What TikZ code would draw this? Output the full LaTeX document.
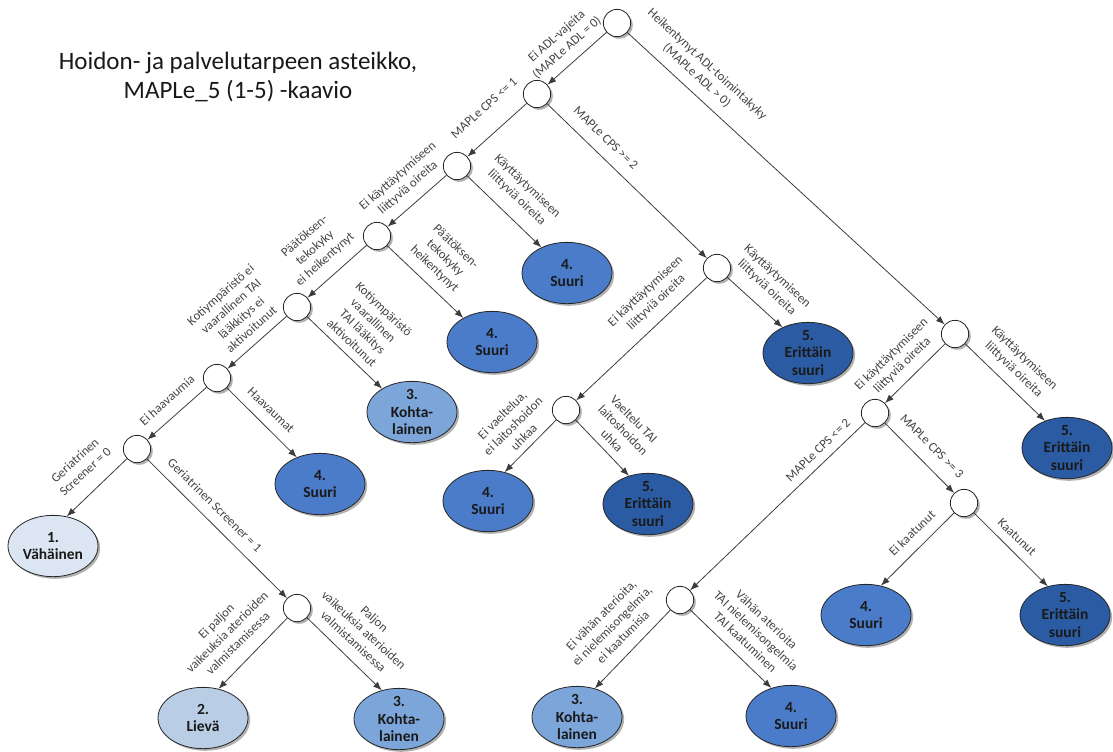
\documentclass[tikz,border=0pt]{standalone}
\usepackage{fontspec}
\setmainfont{Carlito}
\usetikzlibrary{shapes.geometric,arrows.meta,shadows}
\definecolor{cA}{HTML}{DCE6F2}
\definecolor{cB}{HTML}{B9CDE5}
\definecolor{cC}{HTML}{7CA5DA}
\definecolor{cD}{HTML}{4A7CC9}
\definecolor{cE}{HTML}{2B5CA3}
\definecolor{lblgray}{HTML}{444444}
\definecolor{edgegray}{HTML}{3C3C3C}
\begin{document}
\begin{tikzpicture}[x=0.75pt,y=-0.75pt,
  shad/.style={drop shadow={shadow xshift=1.6pt,shadow yshift=-1.6pt,fill=black,opacity=0.3}},
  dec/.style={circle,draw=black!85,fill=white,minimum size=20.5pt,inner sep=0pt,line width=0.6pt,shad},
  leaf/.style={ellipse,draw=black!85,line width=0.6pt,minimum width=67.5pt,minimum height=46pt,
     inner xsep=0pt,inner ysep=-3pt,align=center,text=black!90,
     font=\bfseries\fontsize{11.6}{13.1}\selectfont,shad},
  conn/.style={draw=edgegray,line width=0.6pt,-{Latex[length=6.5pt,width=5pt]}},
  lbl/.style={font=\fontsize{9.6}{11.6}\selectfont,text=lblgray,align=center,inner sep=0pt},
  ttl/.style={font=\fontsize{18.75}{21.5}\selectfont,text=black!90,align=center,inner sep=0pt}
]
\useasboundingbox (0,0) rectangle (1113,751);

% title
\node[ttl] (title) at (238,77) {Hoidon- ja palvelutarpeen asteikko,\\MAPLe\_5 (1-5) -kaavio};

% decision nodes
\node[dec] (root) at (617,23) {};
\node[dec] (n2) at (537,94) {};
\node[dec] (n3) at (457,166) {};
\node[dec] (n4) at (377,236) {};
\node[dec] (n5) at (297,307) {};
\node[dec] (n6) at (217,378) {};
\node[dec] (n7) at (137,449) {};
\node[dec] (n8) at (297,608) {};
\node[dec] (n9) at (717,268) {};
\node[dec] (n10) at (566,410) {};
\node[dec] (n11) at (955,334) {};
\node[dec] (n12) at (875,413) {};
\node[dec] (n13) at (964,503) {};
\node[dec] (n14) at (680,600) {};

% leaves
\node[leaf,fill=cD] (la) at (567,273) {4.\\Suuri};
\node[leaf,fill=cD] (lb) at (492,342) {4.\\Suuri};
\node[leaf,fill=cC] (lk) at (412,412) {3.\\Kohta-\\lainen};
\node[leaf,fill=cD] (lc) at (320,484) {4.\\Suuri};
\node[leaf,fill=cA] (lv) at (53,546) {1.\\Vähäinen};
\node[leaf,fill=cB] (ll) at (203,718) {2.\\Lievä};
\node[leaf,fill=cC] (lk2) at (399,719) {3.\\Kohta-\\lainen};
\node[leaf,fill=cE] (le) at (808,353) {5.\\Erittäin\\suuri};
\node[leaf,fill=cD] (ls) at (488,501) {4.\\Suuri};
\node[leaf,fill=cE] (le2) at (648,504) {5.\\Erittäin\\suuri};
\node[leaf,fill=cE] (le3) at (1067,448) {5.\\Erittäin\\suuri};
\node[leaf,fill=cD] (ls2) at (866,615) {4.\\Suuri};
\node[leaf,fill=cE] (le4) at (1065,615) {5.\\Erittäin\\suuri};
\node[leaf,fill=cC] (lk3) at (577,717) {3.\\Kohta-\\lainen};
\node[leaf,fill=cD] (ls3) at (791,716) {4.\\Suuri};

% connectors
\draw[conn] (root) -- (n2);
\draw[conn] (root) -- (n11);
\draw[conn] (n2) -- (n3);
\draw[conn] (n2) -- (n9);
\draw[conn] (n3) -- (n4);
\draw[conn] (n3) -- (la.135);
\draw[conn] (n4) -- (n5);
\draw[conn] (n4) -- (lb.140);
\draw[conn] (n5) -- (n6);
\draw[conn] (n5) -- (lk.142);
\draw[conn] (n6) -- (n7);
\draw[conn] (n6) -- (lc.131);
\draw[conn] (n7) -- (lv.65);
\draw[conn] (n7) -- (n8);
\draw[conn] (n8) -- (ll.62);
\draw[conn] (n8) -- (lk2.121);
\draw[conn] (n9) -- (n10);
\draw[conn] (n9) -- (le.135);
\draw[conn] (n10) -- (ls.60);
\draw[conn] (n10) -- (le2.124);
\draw[conn] (n11) -- (n12);
\draw[conn] (n11) -- (le3.129);
\draw[conn] (n12) -- (n13);
\draw[conn] (n12) -- (n14);
\draw[conn] (n13) -- (ls2.63);
\draw[conn] (n13) -- (le4.121);
\draw[conn] (n14) -- (lk3.58);
\draw[conn] (n14) -- (ls3.125);

% edge labels
\node[lbl,rotate=41.6] (t1) at (562,42) {Ei ADL-vajeita\\(MAPLe ADL = 0)};
\node[lbl,rotate=-42.6] (t2) at (702,70) {Heikentynyt ADL-toimintakyky\\(MAPLe ADL > 0)};
\node[lbl,rotate=42] (t3) at (484,108) {MAPLe CPS <= 1};
\node[lbl,rotate=-44] (t4) at (606,138) {MAPLe CPS >= 2};
\node[lbl,rotate=41.2] (t5) at (403,182) {Ei käyttäytymiseen\\liittyviä oireita};
\node[lbl,rotate=-43.5] (t6) at (522,192) {Käyttäytymiseen\\liittyviä oireita};
\node[lbl,rotate=41.6] (t7) at (315,248) {Päätöksen-\\tekokyky\\ei heikentynyt};
\node[lbl,rotate=-43.5] (t8) at (445,258) {Päätöksen-\\tekokyky\\heikentynyt};
\node[lbl,rotate=41.6] (t9) at (236,312) {Kotiympäristö ei\\vaarallinen TAI\\lääkkitys ei\\aktivoitunut};
\node[lbl,rotate=-43.8] (t10) at (368,326) {Kotiympäristö\\vaarallinen\\TAI lääkitys\\aktivoitunut};
\node[lbl,rotate=41.6] (t11) at (167,400) {Ei haavaumia};
\node[lbl,rotate=-43.8] (t12) at (271,410) {Haavaumat};
\node[lbl,rotate=42.3] (t13) at (80,466) {Geriatrinen\\Screener = 0};
\node[lbl,rotate=-44.8] (t14) at (215,505) {Geriatrinen Screener = 1};
\node[lbl,rotate=44.6] (t15) at (227,632) {Ei paljon\\vaikeuksia aterioiden\\valmistamisessa};
\node[lbl,rotate=-42.8] (t16) at (364,630) {Paljon\\vaikeuksia aterioiden\\valmistamisessa};
\node[lbl,rotate=43.2] (t17) at (651,297) {Ei käyttäytymiseen\\liittyviä oireita};
\node[lbl,rotate=-43] (t18) at (772,282) {Käyttäytymiseen\\liittyviä oireita};
\node[lbl,rotate=44.5] (t19) at (513,426) {Ei vaeltelua,\\ei laitoshoidon\\uhkaa};
\node[lbl,rotate=-45.5] (t20) at (623,430) {Vaeltelu TAI\\laitoshoidon\\uhka};
\node[lbl,rotate=44.6] (t21) at (897,360) {Ei käyttäytymiseen\\liittyviä oireita};
\node[lbl,rotate=-43.6] (t22) at (1019,364) {Käyttäytymiseen\\liittyviä oireita};
\node[lbl,rotate=43.8] (t23) at (818,450) {MAPLe CPS <= 2};
\node[lbl,rotate=-45.3] (t24) at (932,446) {MAPLe CPS >= 3};
\node[lbl,rotate=43.9] (t25) at (912,533) {Ei kaatunut};
\node[lbl,rotate=-43.5] (t26) at (1017,537) {Kaatunut};
\node[lbl,rotate=45] (t27) at (612,626) {Ei vähän aterioita,\\ei nielemisongelmia,\\ei kaatumisia};
\node[lbl,rotate=-43.3] (t28) at (756,631) {Vähän aterioita\\TAI nielemisongelmia\\TAI kaatuminen};
\end{tikzpicture}
\end{document}
